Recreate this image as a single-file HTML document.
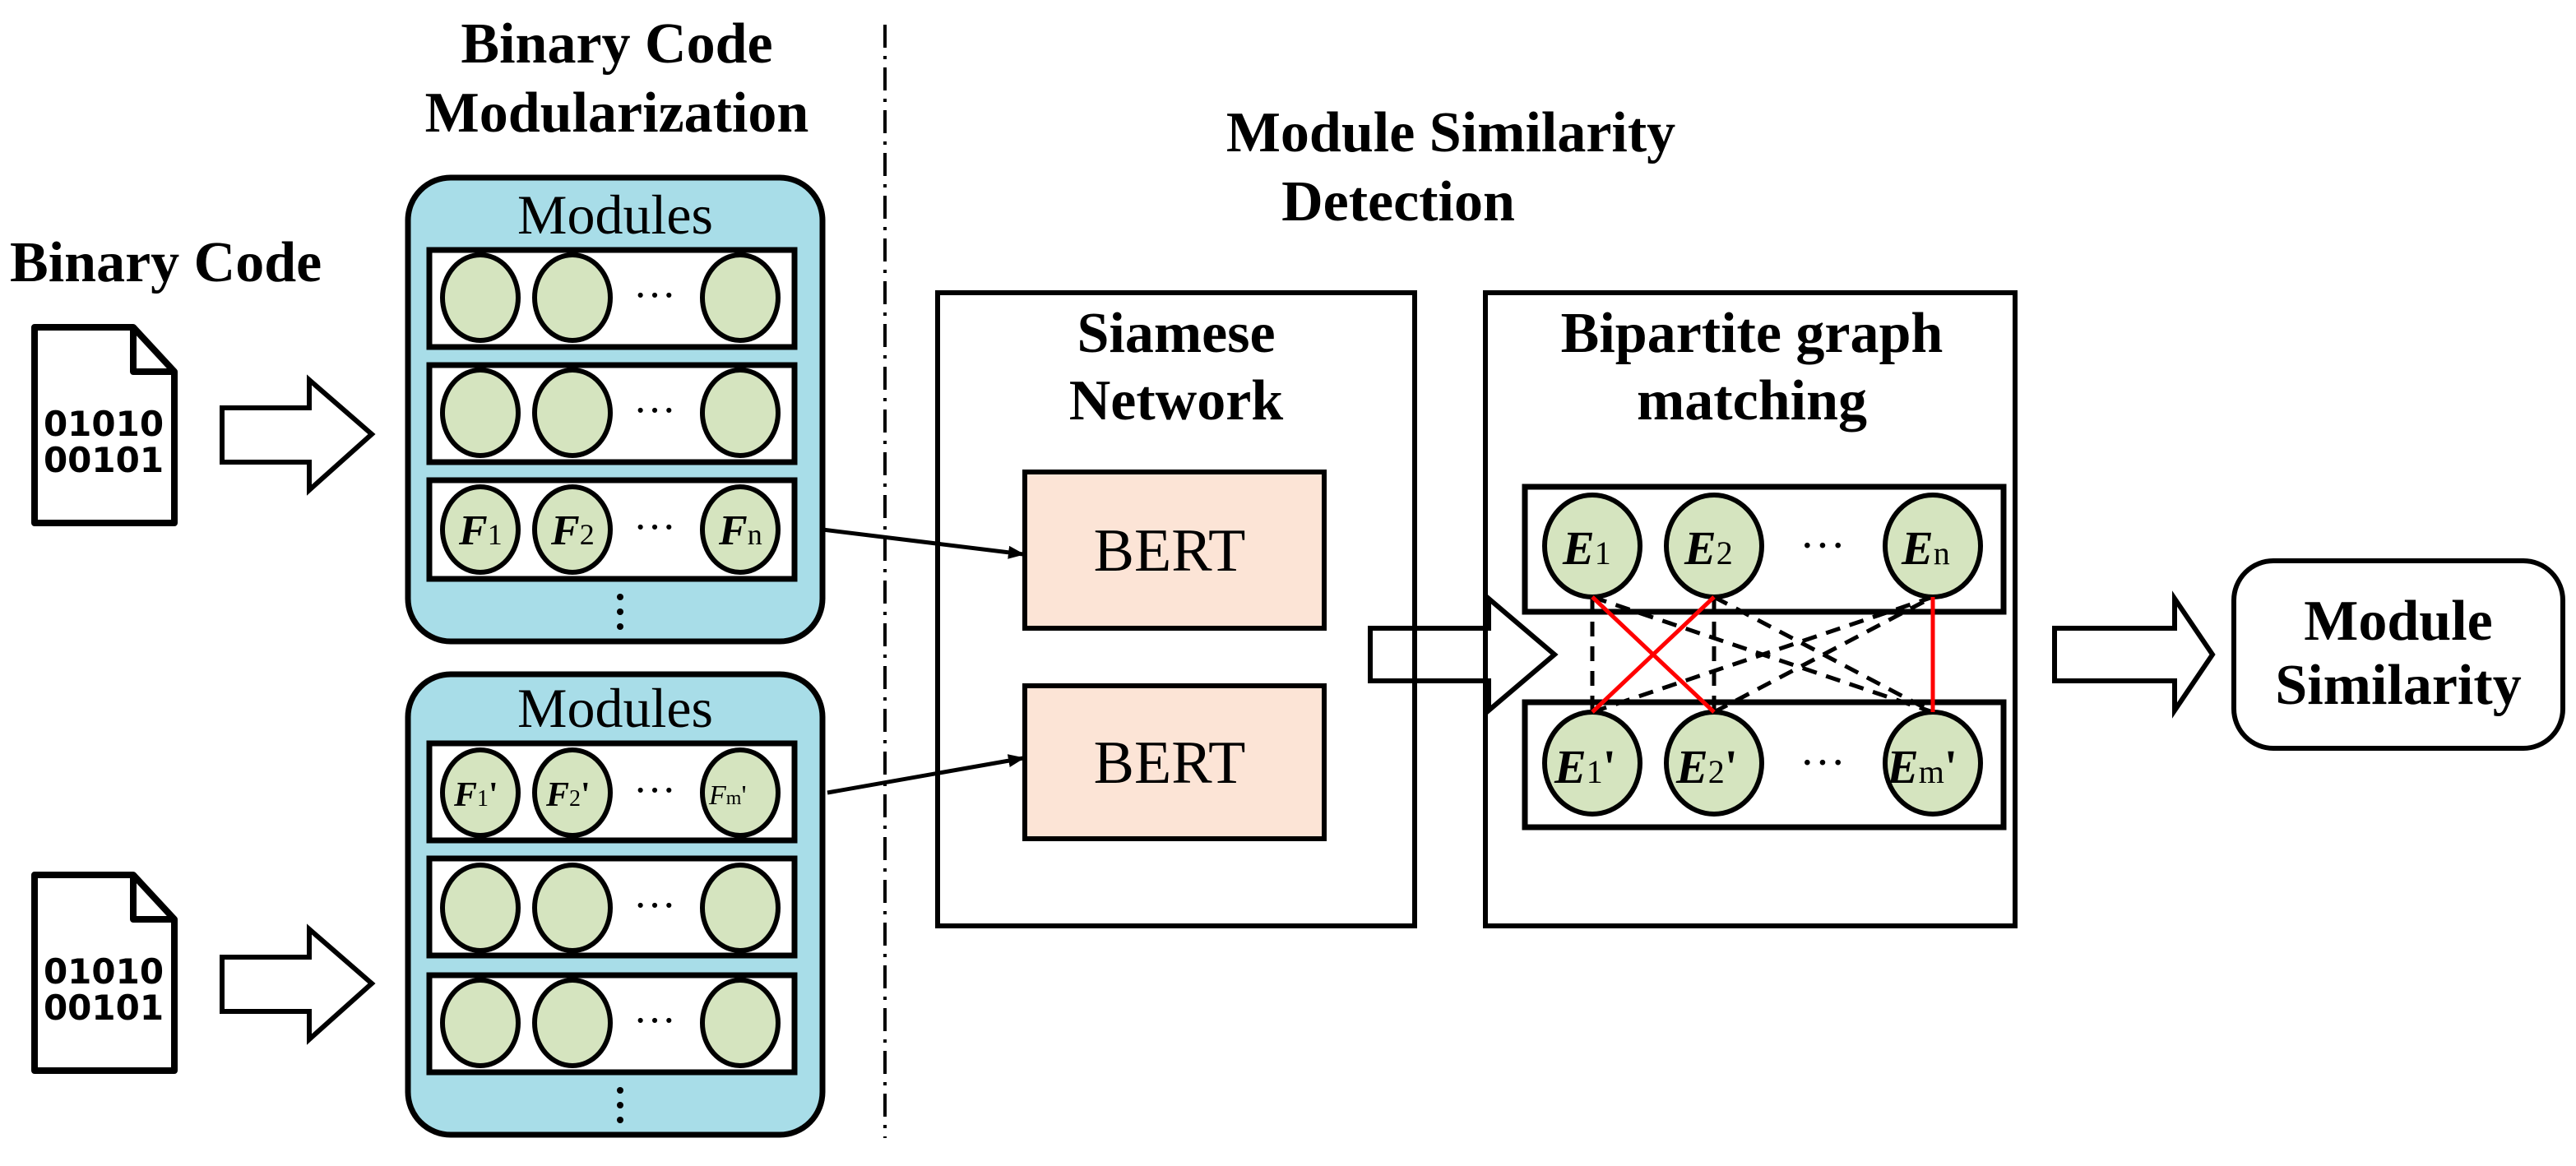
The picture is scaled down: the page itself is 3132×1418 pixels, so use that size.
<!DOCTYPE html>
<html><head><meta charset="utf-8"><style>
html,body{margin:0;padding:0;background:#fff;}
svg{display:block;}
text{font-family:"Liberation Serif",serif;}
.b{font-weight:bold;font-size:35px;}
.d{font-family:"DejaVu Sans","Liberation Sans",sans-serif;font-weight:bold;font-size:21px;}
</style></head><body>
<svg width="3132" height="1418" viewBox="0 0 1566 709" xmlns="http://www.w3.org/2000/svg">
<defs>
<marker id="ah" markerWidth="10" markerHeight="8" refX="9" refY="4" orient="auto" markerUnits="userSpaceOnUse">
<path d="M0,0 L10,4 L0,8 Z" fill="#000"/></marker>
</defs>
<line x1="538" y1="15" x2="538" y2="692" stroke="#000" stroke-width="2" stroke-dasharray="14,5,2,5"/>
<text class="b" x="6" y="171">Binary Code</text>
<text class="b" x="375" y="38" text-anchor="middle">Binary Code</text>
<text class="b" x="375" y="80" text-anchor="middle">Modularization</text>
<text class="b" x="882" y="92" text-anchor="middle">Module Similarity</text>
<text class="b" x="850" y="134" text-anchor="middle">Detection</text>

<g stroke="#000" stroke-width="4" fill="#fff" stroke-linejoin="round">
<path d="M21,199 L81,199 L106,226 L106,318 L21,318 Z"/>
<path d="M81,199 L81,226 L106,226" fill="none"/>
<path d="M21,532 L81,532 L106,559 L106,651 L21,651 Z"/>
<path d="M81,532 L81,559 L106,559" fill="none"/>
</g>
<text class="d" x="63" y="265" text-anchor="middle">01010</text>
<text class="d" x="63" y="287" text-anchor="middle">00101</text>
<text class="d" x="63" y="598" text-anchor="middle">01010</text>
<text class="d" x="63" y="620" text-anchor="middle">00101</text>

<g stroke="#000" stroke-width="3" fill="#fff" stroke-linejoin="miter">
<path d="M135,248 L188,248 L188,231 L226,264 L188,298 L188,281 L135,281 Z"/>
<path d="M135,582 L188,582 L188,565 L226,598 L188,632 L188,615 L135,615 Z"/>
<path d="M833,382 L905,382 L905,364 L945,398 L905,432 L905,414 L833,414 Z"/>
<path d="M1249,382 L1322,382 L1322,364 L1345,398 L1322,432 L1322,414 L1249,414 Z"/>
</g>

<rect x="248" y="108" width="252" height="282" rx="26" fill="#a8dde8" stroke="#000" stroke-width="3.5"/>
<text x="374" y="142" text-anchor="middle" font-size="34">Modules</text>
<g stroke="#000" stroke-width="3.5" fill="#fff">
<rect x="261" y="152" width="222" height="59"/>
<rect x="261" y="222" width="222" height="59"/>
<rect x="261" y="292" width="222" height="60"/>
</g>
<g stroke="#000" stroke-width="3" fill="#d5e4bf">
<ellipse cx="292" cy="181" rx="23" ry="26"/><ellipse cx="348" cy="181" rx="23" ry="26"/><ellipse cx="450" cy="181" rx="23" ry="26"/>
<ellipse cx="292" cy="251" rx="23" ry="26"/><ellipse cx="348" cy="251" rx="23" ry="26"/><ellipse cx="450" cy="251" rx="23" ry="26"/>
<ellipse cx="292" cy="322" rx="23" ry="26"/><ellipse cx="348" cy="322" rx="23" ry="26"/><ellipse cx="450" cy="322" rx="23" ry="26"/>
</g>
<g font-size="26" text-anchor="middle">
<text x="398" y="188">···</text><text x="398" y="258">···</text><text x="398" y="329">···</text>
</g>
<g font-size="26" font-style="italic" font-weight="bold">
<text x="279" y="331">F<tspan font-size="18" font-style="normal" font-weight="normal">1</tspan></text>
<text x="335" y="331">F<tspan font-size="18" font-style="normal" font-weight="normal">2</tspan></text>
<text x="437" y="331">F<tspan font-size="18" font-style="normal" font-weight="normal">n</tspan></text>
</g>
<g fill="#000"><circle cx="377" cy="363" r="2"/><circle cx="377" cy="372" r="2"/><circle cx="377" cy="381" r="2"/></g>

<rect x="248" y="410" width="252" height="280" rx="26" fill="#a8dde8" stroke="#000" stroke-width="3.5"/>
<text x="374" y="442" text-anchor="middle" font-size="34">Modules</text>
<g stroke="#000" stroke-width="3.5" fill="#fff">
<rect x="261" y="452" width="222" height="59"/>
<rect x="261" y="522" width="222" height="59"/>
<rect x="261" y="593" width="222" height="59"/>
</g>
<g stroke="#000" stroke-width="3" fill="#d5e4bf">
<ellipse cx="292" cy="482" rx="23" ry="26"/><ellipse cx="348" cy="482" rx="23" ry="26"/><ellipse cx="450" cy="482" rx="23" ry="26"/>
<ellipse cx="292" cy="552" rx="23" ry="26"/><ellipse cx="348" cy="552" rx="23" ry="26"/><ellipse cx="450" cy="552" rx="23" ry="26"/>
<ellipse cx="292" cy="622" rx="23" ry="26"/><ellipse cx="348" cy="622" rx="23" ry="26"/><ellipse cx="450" cy="622" rx="23" ry="26"/>
</g>
<g font-size="26" text-anchor="middle">
<text x="398" y="489">···</text><text x="398" y="559">···</text><text x="398" y="629">···</text>
</g>
<g font-size="21" font-style="italic" font-weight="bold">
<text x="276" y="490">F<tspan font-size="14" font-style="normal" font-weight="normal">1</tspan><tspan font-style="normal">'</tspan></text>
<text x="332" y="490">F<tspan font-size="14" font-style="normal" font-weight="normal">2</tspan><tspan font-style="normal">'</tspan></text>
<text x="431" y="489" font-size="17" font-weight="normal">F<tspan font-size="12" font-style="normal">m</tspan><tspan font-style="normal">'</tspan></text>
</g>
<g fill="#000"><circle cx="377" cy="663" r="2"/><circle cx="377" cy="672" r="2"/><circle cx="377" cy="681" r="2"/></g>

<line x1="500" y1="322" x2="622" y2="337" stroke="#000" stroke-width="2.5" marker-end="url(#ah)"/>
<line x1="503" y1="482" x2="622" y2="461" stroke="#000" stroke-width="2.5" marker-end="url(#ah)"/>

<rect x="570" y="178" width="290" height="385" fill="none" stroke="#000" stroke-width="3"/>
<text class="b" x="715" y="214" text-anchor="middle">Siamese</text>
<text class="b" x="715" y="255" text-anchor="middle">Network</text>
<rect x="623" y="287" width="182" height="95" fill="#fce4d6" stroke="#000" stroke-width="3"/>
<text x="711" y="347" text-anchor="middle" font-size="37">BERT</text>
<rect x="623" y="417" width="182" height="93" fill="#fce4d6" stroke="#000" stroke-width="3"/>
<text x="711" y="476" text-anchor="middle" font-size="37">BERT</text>

<rect x="903" y="178" width="322" height="385" fill="none" stroke="#000" stroke-width="3"/>
<text class="b" x="1065" y="214" text-anchor="middle">Bipartite graph</text>
<text class="b" x="1065" y="255" text-anchor="middle">matching</text>
<g stroke="#000" stroke-width="3.5" fill="#fff">
<rect x="927" y="296" width="291" height="76"/>
<rect x="927" y="427" width="291" height="76"/>
</g>
<g stroke="#000" stroke-width="2.5" stroke-dasharray="9,6" fill="none">
<line x1="968" y1="363" x2="968" y2="433"/>
<line x1="1042" y1="363" x2="1042" y2="433"/>
<line x1="968" y1="363" x2="1175" y2="433"/>
<line x1="1042" y1="363" x2="1175" y2="433"/>
<line x1="968" y1="433" x2="1175" y2="363"/>
<line x1="1042" y1="433" x2="1175" y2="363"/>
</g>
<g stroke="#000" stroke-width="3" fill="#d5e4bf">
<ellipse cx="968" cy="332" rx="29" ry="31"/><ellipse cx="1042" cy="332" rx="29" ry="31"/><ellipse cx="1175" cy="332" rx="29" ry="31"/>
<ellipse cx="968" cy="464" rx="29" ry="31"/><ellipse cx="1042" cy="464" rx="29" ry="31"/><ellipse cx="1175" cy="464" rx="29" ry="31"/>
</g>
<g stroke="#f00" stroke-width="2.5">
<line x1="968" y1="363" x2="1042" y2="433"/>
<line x1="1042" y1="363" x2="968" y2="433"/>
<line x1="1175" y1="363" x2="1175" y2="433"/>
</g>
<g font-size="29" font-style="italic" font-weight="bold">
<text x="950" y="343">E<tspan font-size="20" font-style="normal" font-weight="normal">1</tspan></text>
<text x="1024" y="343">E<tspan font-size="20" font-style="normal" font-weight="normal">2</tspan></text>
<text x="1156" y="343">E<tspan font-size="20" font-style="normal" font-weight="normal">n</tspan></text>
<text x="945" y="476">E<tspan font-size="20" font-style="normal" font-weight="normal">1</tspan><tspan font-style="normal">'</tspan></text>
<text x="1019" y="476">E<tspan font-size="20" font-style="normal" font-weight="normal">2</tspan><tspan font-style="normal">'</tspan></text>
<text x="1147" y="476">E<tspan font-size="20" font-style="normal" font-weight="normal">m</tspan><tspan font-style="normal">'</tspan></text>
</g>
<g font-size="28" text-anchor="middle">
<text x="1108" y="341">···</text><text x="1108" y="473">···</text>
</g>

<rect x="1358" y="341" width="200" height="114" rx="24" fill="#fff" stroke="#000" stroke-width="3"/>
<text class="b" x="1458" y="389" text-anchor="middle">Module</text>
<text class="b" x="1458" y="428" text-anchor="middle">Similarity</text>
</svg>
</body></html>
